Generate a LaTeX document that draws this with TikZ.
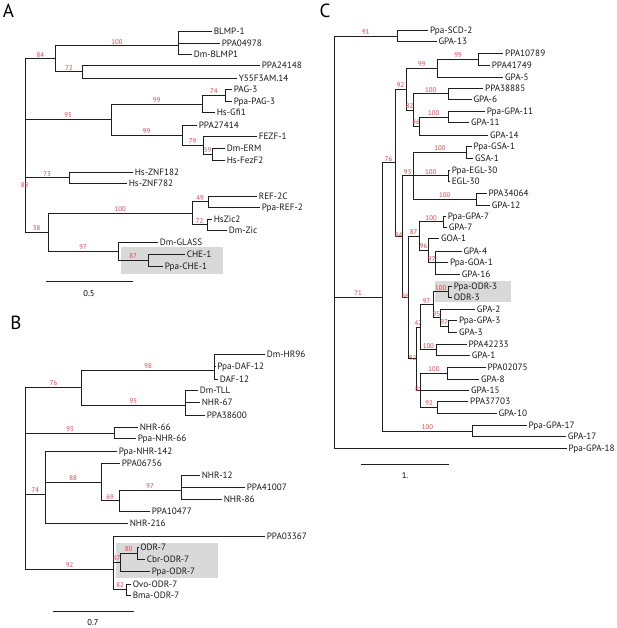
\documentclass[tikz,border=0pt]{standalone}
\usepackage{fontspec}
\setmainfont{PT Sans}
\definecolor{bsred}{RGB}{232,62,66}
\definecolor{boxgray}{RGB}{217,217,217}
\definecolor{ln}{RGB}{30,30,30}
\begin{document}
\begin{tikzpicture}[x=1pt,y=-1pt,
 br/.style={draw=ln, line width=0.9pt},
 bs/.style={font=\fontsize{6.8}{6.8}\selectfont, text=bsred, inner sep=0pt, anchor=south, yshift=1.2pt, text height=4.8pt, text depth=0pt},
 bl/.style={bs, pos=0.75},
 onl/.style={anchor=center, yshift=0pt},
 lf/.style={anchor=west, inner xsep=1.6pt, inner ysep=0pt, font=\fontsize{9.2}{9.2}\selectfont, text=black!90, text height=6.5pt, text depth=0pt},
 pl/.style={font=\fontsize{19}{19}\selectfont, inner sep=0pt},
 gbox/.style={fill=boxgray, draw=none},
 sbar/.style={draw=ln, line width=1pt},
 slab/.style={font=\fontsize{8.5}{8.5}\selectfont, inner sep=0pt}]
\useasboundingbox (0,0) rectangle (617,628);

% ---------- gray boxes ----------
\fill[gbox] (121,246.7) rectangle (223.3,274);
\fill[gbox] (116,542.7) rectangle (217.7,577.7);
\fill[gbox] (435,280.7) rectangle (510.7,301.7);

% ---------- panel letters ----------
\node[pl] (LA) at (8.5,10.5) {A};
\node[pl] (LB) at (16,322.5) {B};
\node[pl] (LC) at (325,11) {C};

% ================= PANEL A =================
\coordinate (rA) at (25,145);
\coordinate (nA84) at (55.7,58.7);
\coordinate (nA100a) at (178.3,45.7);
\coordinate (nA72) at (82.3,71.7);
\coordinate (nA95) at (111,119.6);
\coordinate (nA99a) at (202.7,104.3);
\coordinate (nA74) at (225,95.2);
\coordinate (nA99b) at (182,135);
\coordinate (nA79) at (203,145.6);
\coordinate (nA59) at (212,154.5);
\coordinate (nA73) at (69.3,177.8);
\coordinate (nA38) at (48.3,232);
\coordinate (nA100b) at (192.3,213);
\coordinate (nA49) at (208,201.8);
\coordinate (nA72b) at (207,224.7);
\coordinate (nA97) at (118,251);
\coordinate (nA87) at (148,260);

\node[lf] (a1) at (212,31) {BLMP-1};
\node[lf] (a2) at (220,43.3) {PPA04978};
\node[lf] (a3) at (192,54.3) {Dm-BLMP1};
\node[lf] (a4) at (260,65.7) {PPA24148};
\node[lf] (a5) at (237,78) {Y55F3AM.14};
\node[lf] (a6) at (232,89.3) {PAG-3};
\node[lf] (a7) at (232,101) {Ppa-PAG-3};
\node[lf] (a8) at (215,112.7) {Hs-Gfi1};
\node[lf] (a9) at (197,125) {PPA27414};
\node[lf] (a10) at (257,136.7) {FEZF-1};
\node[lf] (a11) at (225,148.3) {Dm-ERM};
\node[lf] (a12) at (225,160.7) {Hs-FezF2};
\node[lf] (a13) at (133,172.3) {Hs-ZNF182};
\node[lf] (a14) at (127,183.3) {Hs-ZNF782};
\node[lf] (a15) at (257,196) {REF-2C};
\node[lf] (a16) at (260,207.7) {Ppa-REF-2};
\node[lf] (a17) at (212,219.3) {HsZic2};
\node[lf] (a18) at (227,230) {Dm-Zic};
\node[lf] (a19) at (158,242.7) {Dm-GLASS};
\node[lf] (a20) at (185,254) {CHE-1};
\node[lf] (a21) at (163,266) {Ppa-CHE-1};

\draw[br] (rA) |- node[bl]{84} (nA84);
\draw[br] (nA84) |- node[bl]{100} (nA100a);
\draw[br] (nA100a) |- (a1.west) (nA100a) |- (a2.west) (nA100a) |- (a3.west);
\draw[br] (nA84) |- node[bl]{72} (nA72);
\draw[br] (nA72) |- (a4.west) (nA72) |- (a5.west);
\draw[br] (rA) |- node[bl]{95} (nA95);
\draw[br] (nA95) |- node[bl]{99} (nA99a);
\draw[br] (nA99a) |- node[bl]{74} (nA74);
\draw[br] (nA74) |- (a6.west) (nA74) |- (a7.west);
\draw[br] (nA99a) |- (a8.west);
\draw[br] (nA95) |- node[bl]{99} (nA99b);
\draw[br] (nA99b) |- (a9.west);
\draw[br] (nA99b) |- node[bl]{79} (nA79);
\draw[br] (nA79) |- (a10.west);
\draw[br] (nA79) |- node[bl]{59} (nA59);
\draw[br] (nA59) |- (a11.west) (nA59) |- (a12.west);
\draw[br] (rA) |- node[bl]{73} (nA73);
\draw[br] (nA73) |- (a13.west) (nA73) |- (a14.west);
\draw[br] (rA) |- node[bl]{38} (nA38);
\draw[br] (nA38) |- node[bl]{100} (nA100b);
\draw[br] (nA100b) |- node[bl]{49} (nA49);
\draw[br] (nA49) |- (a15.west) (nA49) |- (a16.west);
\draw[br] (nA100b) |- node[bl]{72} (nA72b);
\draw[br] (nA72b) |- (a17.west) (nA72b) |- (a18.west);
\draw[br] (nA38) |- node[bl]{97} (nA97);
\draw[br] (nA97) |- (a19.west);
\draw[br] (nA97) |- node[bl]{87} (nA87);
\draw[br] (nA87) |- (a20.west) (nA87) |- (a21.west);
\node[bs, anchor=center, yshift=0pt] (bA88) at (24.5,186.7) {88};

\coordinate (sA1) at (46,281);
\coordinate (sA2) at (132.7,281);
\draw[sbar] (sA1) -- (sA2);
\node[slab] (tA) at (89,293.3) {0.5};

% ================= PANEL B =================
\coordinate (rB) at (25.7,480);
\coordinate (nB76) at (81.7,387.5);
\coordinate (nB98) at (214.3,370);
\coordinate (nB95) at (185,405);
\coordinate (nB93) at (114.3,433);
\coordinate (nB74) at (45,494.3);
\coordinate (nB88) at (101,482.3);
\coordinate (nB69) at (119.3,500.7);
\coordinate (nB97) at (181,490.5);
\coordinate (nB92) at (113.3,569);
\coordinate (nB47) at (120,562.6);
\coordinate (nB80) at (137.3,553.5);
\coordinate (nB82) at (126.7,589.5);

\node[lf] (b1) at (265,354.3) {Dm-HR96};
\node[lf] (b2) at (215.5,366.7) {Ppa-DAF-12};
\node[lf] (b3) at (218,379.3) {DAF-12};
\node[lf] (b4) at (198,390.7) {Dm-TLL};
\node[lf] (b5) at (200,402.7) {NHR-67};
\node[lf] (b6) at (205,415) {PPA38600};
\node[lf] (b7) at (138,427.7) {NHR-66};
\node[lf] (b8) at (136,438.3) {Ppa-NHR-66};
\node[lf] (b9) at (117,451.7) {Ppa-NHR-142};
\node[lf] (b10) at (120,463.3) {PPA06756};
\node[lf] (b11) at (200,475) {NHR-12};
\node[lf] (b12) at (245,487.3) {PPA41007};
\node[lf] (b13) at (222,499.3) {NHR-86};
\node[lf] (b14) at (150,511) {PPA10477};
\node[lf] (b15) at (128,523.3) {NHR-216};
\node[lf] (b16) at (265,536) {PPA03367};
\node[lf] (b17) at (138.5,547.7) {ODR-7};
\node[lf] (b18) at (145,559.3) {Cbr-ODR-7};
\node[lf] (b19) at (150,571.7) {Ppa-ODR-7};
\node[lf] (b20) at (131,584) {Ovo-ODR-7};
\node[lf] (b21) at (131,595) {Bma-ODR-7};

\draw[br] (rB) |- node[bl]{76} (nB76);
\draw[br] (nB76) |- node[bl]{98} (nB98);
\draw[br] (nB98) |- (b1.west) (nB98) |- (b2.west) (nB98) |- (b3.west);
\draw[br] (nB76) |- node[bl]{95} (nB95);
\draw[br] (nB95) |- (b4.west) (nB95) |- (b5.west) (nB95) |- (b6.west);
\draw[br] (rB) |- node[bl]{93} (nB93);
\draw[br] (nB93) |- (b7.west) (nB93) |- (b8.west);
\draw[br] (rB) |- node[bl]{74} (nB74);
\draw[br] (nB74) |- (b9.west);
\draw[br] (nB74) |- node[bl]{88} (nB88);
\draw[br] (nB88) |- (b10.west);
\draw[br] (nB88) |- node[bl]{69} (nB69);
\draw[br] (nB69) |- node[bl]{97} (nB97);
\draw[br] (nB97) |- (b11.west) (nB97) |- (b12.west) (nB97) |- (b13.west);
\draw[br] (nB69) |- (b14.west);
\draw[br] (nB74) |- (b15.west);
\draw[br] (rB) |- node[bl]{92} (nB92);
\draw[br] (nB92) |- (b16.west);
\draw[br] (nB92) |- node[bl]{47} (nB47);
\draw[br] (nB47) |- node[bl]{80} (nB80);
\draw[br] (nB80) |- (b17.west) (nB80) |- (b18.west);
\draw[br] (nB47) |- (b19.west);
\draw[br] (nB92) |- node[bl]{82} (nB82);
\draw[br] (nB82) |- (b20.west) (nB82) |- (b21.west);

\coordinate (sB1) at (52.7,611);
\coordinate (sB2) at (134,611);
\draw[sbar] (sB1) -- (sB2);
\node[slab] (tB) at (93,622.7) {0.7};

% ================= PANEL C =================
\coordinate (rC) at (334,240);
\coordinate (nC91) at (397.7,36.2);
\coordinate (nC71) at (382.3,297.1);
\coordinate (nCp) at (395,162.9);
\coordinate (nC92) at (406,89.1);
\coordinate (nC99a) at (437.7,68.2);
\coordinate (nC99b) at (478.3,59.2);
\coordinate (nC82) at (413.3,110);
\coordinate (nC100a) at (448.3,93.8);
\coordinate (nC86a) at (419,126.1);
\coordinate (nC100b) at (448.3,117.2);
\coordinate (nC84) at (402,236.6);
\coordinate (nC93) at (413.3,175.8);
\coordinate (nC100c) at (466.7,152.5);
\coordinate (nC100d) at (448.3,175.8);
\coordinate (nC100e) at (476,199.2);
\coordinate (nC86b) at (408.3,297.5);
\coordinate (nC87) at (419,236.1);
\coordinate (nC100f) at (443.3,221.7);
\coordinate (nC96) at (428,250.5);
\coordinate (nC97a) at (435.7,262.7);
\coordinate (nC92b) at (416.7,358.9);
\coordinate (nC42) at (420,327.4);
\coordinate (nC97b) at (433,304.9);
\coordinate (nC100g) at (448.3,291.8);
\coordinate (nC95) at (440,317.9);
\coordinate (nC97c) at (448.3,326.5);
\coordinate (nC100h) at (436.7,349.8);
\coordinate (nC81) at (420.7,390.4);
\coordinate (nC100i) at (447.3,373.3);
\coordinate (nC92c) at (437.3,407.5);
\coordinate (nC100j) at (472.7,431.2);

\node[lf] (c1) at (428.3,30.7) {Ppa-SCD-2};
\node[lf] (c2) at (436.7,41.7) {GPA-13};
\node[lf] (c3) at (503.3,53.3) {PPA10789};
\node[lf] (c4) at (490,65) {PPA41749};
\node[lf] (c5) at (503.3,77.3) {GPA-5};
\node[lf] (c6) at (483.3,88.3) {PPA38885};
\node[lf] (c7) at (471.7,99.3) {GPA-6};
\node[lf] (c8) at (485,111.7) {Ppa-GPA-11};
\node[lf] (c9) at (469.3,122.7) {GPA-11};
\node[lf] (c10) at (488.3,135) {GPA-14};
\node[lf] (c11) at (471.7,146.7) {Ppa-GSA-1};
\node[lf] (c12) at (473.3,158.3) {GSA-1};
\node[lf] (c13) at (450,170) {Ppa-EGL-30};
\node[lf] (c14) at (450,181.7) {EGL-30};
\node[lf] (c15) at (486.7,193.3) {PPA34064};
\node[lf] (c16) at (490,205) {GPA-12};
\node[lf] (c17) at (446,216) {Ppa-GPA-7};
\node[lf] (c18) at (447,227.3) {GPA-7};
\node[lf] (c19) at (439.3,238.3) {GOA-1};
\node[lf] (c20) at (461.7,251) {GPA-4};
\node[lf] (c21) at (448.3,262.7) {Ppa-GOA-1};
\node[lf] (c22) at (460,274.3) {GPA-16};
\node[lf] (c23) at (452,286) {Ppa-ODR-3};
\node[lf] (c24) at (452,297.7) {ODR-3};
\node[lf] (c25) at (475,309.3) {GPA-2};
\node[lf] (c26) at (457.3,320.7) {Ppa-GPA-3};
\node[lf] (c27) at (457.3,332.3) {GPA-3};
\node[lf] (c28) at (466.7,344) {PPA42233};
\node[lf] (c29) at (470,355.7) {GPA-1};
\node[lf] (c30) at (485.7,367.7) {PPA02075};
\node[lf] (c31) at (479.3,379) {GPA-8};
\node[lf] (c32) at (469.3,390) {GPA-15};
\node[lf] (c33) at (468.3,401.7) {PPA37703};
\node[lf] (c34) at (496.7,413.3) {GPA-10};
\node[lf] (c35) at (526.7,425.7) {Ppa-GPA-17};
\node[lf] (c36) at (566,436.7) {GPA-17};
\node[lf] (c37) at (566.7,448.3) {Ppa-GPA-18};

\draw[br] (rC) |- node[bl]{91} (nC91);
\draw[br] (nC91) |- (c1.west) (nC91) |- (c2.west);
\draw[br] (rC) |- node[bl]{71} (nC71);
\draw[br] (rC) |- (c37.west);
\draw[br] (nC71) |- node[bl]{76} (nCp);
\draw[br] (nC71) |- node[bl]{100} (nC100j);
\draw[br] (nC100j) |- (c35.west) (nC100j) |- (c36.west);
\draw[br] (nCp) |- node[bl]{92} (nC92);
\draw[br] (nCp) |- node[bl,onl]{84} (nC84);
\draw[br] (nC92) |- node[bl]{99} (nC99a);
\draw[br] (nC92) |- node[bl]{82} (nC82);
\draw[br] (nC99a) |- node[bl]{99} (nC99b);
\draw[br] (nC99a) |- (c5.west);
\draw[br] (nC99b) |- (c3.west) (nC99b) |- (c4.west);
\draw[br] (nC82) |- node[bl]{100} (nC100a);
\draw[br] (nC82) |- node[bl]{86} (nC86a);
\draw[br] (nC100a) |- (c6.west) (nC100a) |- (c7.west);
\draw[br] (nC86a) |- node[bl]{100} (nC100b);
\draw[br] (nC86a) |- (c10.west);
\draw[br] (nC100b) |- (c8.west) (nC100b) |- (c9.west);
\draw[br] (nC84) |- node[bl]{93} (nC93);
\draw[br] (nC84) |- node[bl,onl]{86} (nC86b);
\draw[br] (nC93) |- node[bl]{100} (nC100c);
\draw[br] (nC93) |- node[bl]{100} (nC100d);
\draw[br] (nC93) |- node[bl]{100} (nC100e);
\draw[br] (nC100c) |- (c11.west) (nC100c) |- (c12.west);
\draw[br] (nC100d) |- (c13.west) (nC100d) |- (c14.west);
\draw[br] (nC100e) |- (c15.west) (nC100e) |- (c16.west);
\draw[br] (nC86b) |- node[bl]{87} (nC87);
\draw[br] (nC86b) |- node[bl,onl]{92} (nC92b);
\draw[br] (nC87) |- node[bl]{100} (nC100f);
\draw[br] (nC100f) |- (c17.west) (nC100f) |- (c18.west);
\draw[br] (nC87) |- node[bl]{96} (nC96);
\draw[br] (nC96) |- (c19.west);
\draw[br] (nC96) |- node[bl]{97} (nC97a);
\draw[br] (nC97a) |- (c20.west) (nC97a) |- (c21.west) (nC97a) |- (c22.west);
\draw[br] (nC92b) |- node[bl]{42} (nC42);
\draw[br] (nC92b) |- node[bl,onl]{81} (nC81);
\draw[br] (nC42) |- node[bl]{97} (nC97b);
\draw[br] (nC42) |- node[bl]{100} (nC100h);
\draw[br] (nC97b) |- node[bl]{100} (nC100g);
\draw[br] (nC97b) |- node[bl]{95} (nC95);
\draw[br] (nC100g) |- (c23.west) (nC100g) |- (c24.west);
\draw[br] (nC95) |- (c25.west);
\draw[br] (nC95) |- node[bl]{97} (nC97c);
\draw[br] (nC97c) |- (c26.west) (nC97c) |- (c27.west);
\draw[br] (nC100h) |- (c28.west) (nC100h) |- (c29.west);
\draw[br] (nC81) |- node[bl]{100} (nC100i);
\draw[br] (nC81) |- (c32.west);
\draw[br] (nC81) |- node[bl]{92} (nC92c);
\draw[br] (nC100i) |- (c30.west) (nC100i) |- (c31.west);
\draw[br] (nC92c) |- (c33.west) (nC92c) |- (c34.west);

\coordinate (sC1) at (360.7,464);
\coordinate (sC2) at (449,464);
\draw[sbar] (sC1) -- (sC2);
\node[slab] (tC) at (405,476) {1.};
\end{tikzpicture}
\end{document}
